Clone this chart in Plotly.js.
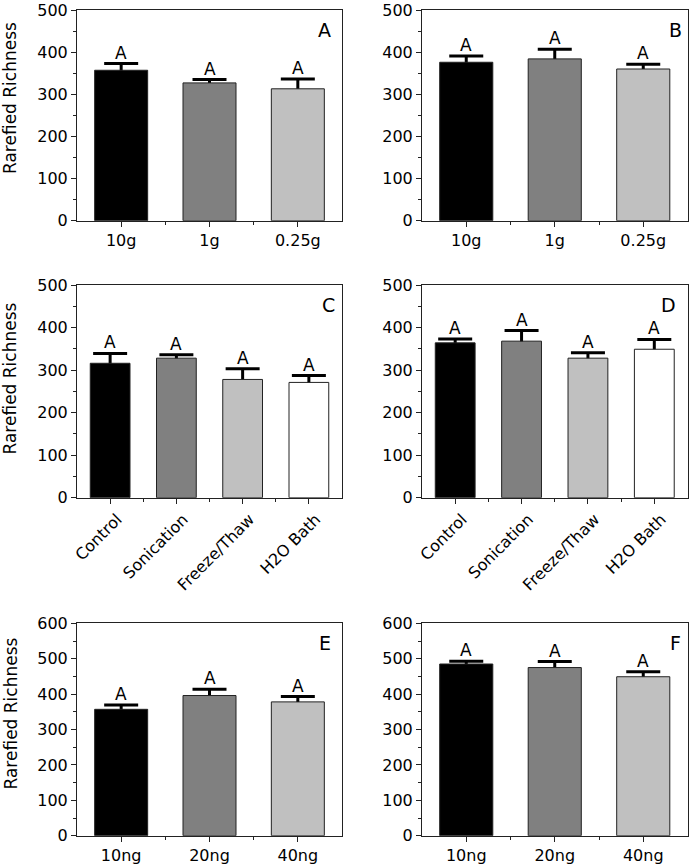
<!DOCTYPE html>
<html>
<head>
<meta charset="utf-8">
<script src="https://cdn.plot.ly/plotly-3.0.1.min.js"></script>
<style>html,body{margin:0;padding:0;background:#fff;}#chart{width:689px;height:865px;}</style>
</head>
<body>
<div id="chart"></div>
<script>
// ---- data ----
const catsMass = ['10g', '1g', '0.25g'];
const catsLysis = ['Control', 'Sonication', 'Freeze/Thaw', 'H2O Bath'];
const catsDNA = ['10ng', '20ng', '40ng'];

const valsA = [357, 327, 313];
const errA = [16, 8, 23];
const valsB = [376, 384, 360];
const errB = [15, 23, 11];
const valsC = [316, 328, 278, 271];
const errC = [23, 8, 25, 16];
const valsD = [364, 368, 328, 349];
const errD = [9, 25, 13, 23];
const valsE = [357, 396, 378];
const errE = [12, 18, 15];
const valsF = [485, 475, 449];
const errF = [8, 17, 14];

const sigA = ['A', 'A', 'A'];
const sigB = ['A', 'A', 'A'];
const sigC = ['A', 'A', 'A', 'A'];
const sigD = ['A', 'A', 'A', 'A'];
const sigE = ['A', 'A', 'A'];
const sigF = ['A', 'A', 'A'];

const panelLetters = ['A', 'B', 'C', 'D', 'E', 'F'];
const yTitle = 'Rarefied Richness';
const yMax = [500, 500, 500, 500, 600, 600];

// ---- styles ----
const fillColors = ['#000000', '#808080', '#c0c0c0', '#ffffff'];
const FONT = 'DejaVu Sans, Arial, sans-serif';
const lineCol = '#222222';

const panels = [
  {cats: catsMass, vals: valsA, err: errA, sig: sigA},
  {cats: catsMass, vals: valsB, err: errB, sig: sigB},
  {cats: catsLysis, vals: valsC, err: errC, sig: sigC},
  {cats: catsLysis, vals: valsD, err: errD, sig: sigD},
  {cats: catsDNA, vals: valsE, err: errE, sig: sigE},
  {cats: catsDNA, vals: valsF, err: errF, sig: sigF}
];

const W = 689, H = 865;
const xDomLeft = [77 / W, 342 / W];
const xDomRight = [422 / W, 687.5 / W];
const rowsPx = [[10, 220.7], [285, 497.7], [623.3, 835.7]];
const letterX = [0.935, 0.955, 0.950, 0.930, 0.935, 0.955];

const data = [];
const layout = {
  width: W, height: H,
  margin: {l: 0, r: 0, t: 0, b: 0},
  paper_bgcolor: '#ffffff', plot_bgcolor: '#ffffff',
  barmode: 'overlay',
  showlegend: false,
  font: {family: FONT, size: 16, color: '#000'},
  annotations: []
};

panels.forEach((p, i) => {
  const n = i + 1;
  const xa = 'x' + (n === 1 ? '' : n);
  const ya = 'y' + (n === 1 ? '' : n);
  const row = Math.floor(i / 2);
  const col = i % 2;
  const xs = p.cats.map((c, k) => k);
  const colors = p.cats.map((c, k) => fillColors[k]);

  // error bar carrier (hidden bar), covered by the visible bar drawn after it
  data.push({
    type: 'bar', x: xs, y: p.vals, xaxis: xa, yaxis: ya, width: 0.6,
    marker: {color: 'rgba(0,0,0,0)', line: {width: 0}},
    error_y: {type: 'data', array: p.err, visible: true, color: '#000', thickness: 3, width: 17},
    hoverinfo: 'skip'
  });
  data.push({
    type: 'bar', x: xs, y: p.vals, xaxis: xa, yaxis: ya, width: 0.6,
    marker: {color: colors, line: {color: lineCol, width: 1}},
    name: panelLetters[i]
  });

  const dom = rowsPx[row];
  const rot = p.cats.length === 4;
  layout['xaxis' + (n === 1 ? '' : n)] = {
    domain: col === 0 ? xDomLeft : xDomRight,
    anchor: ya,
    type: 'linear',
    range: [-0.5, p.cats.length - 0.5],
    tickmode: 'array', tickvals: xs, ticktext: p.cats,
    tickangle: rot ? -45 : 0,
    ticklabelshift: rot ? 7 : 0,
    ticklabeloverflow: 'allow',
    ticks: 'outside', ticklen: 5, tickwidth: 1, tickcolor: lineCol,
    minor: {tickmode: 'array', tickvals: xs.slice(1).map(k => k - 0.5), ticks: 'outside', ticklen: 3, tickwidth: 1, tickcolor: lineCol},
    showline: true, linecolor: lineCol, linewidth: 1, mirror: true,
    showgrid: false, zeroline: false, fixedrange: true,
    tickfont: {family: FONT, size: 16, color: '#000'}
  };
  layout['yaxis' + (n === 1 ? '' : n)] = {
    domain: [1 - dom[1] / H, 1 - dom[0] / H],
    anchor: xa,
    range: [0, yMax[i]],
    tickmode: 'linear', tick0: 0, dtick: 100,
    ticklabeloverflow: 'allow',
    ticks: 'outside', ticklen: 5, tickwidth: 1, tickcolor: lineCol,
    minor: {tickmode: 'linear', tick0: 0, dtick: 50, ticks: 'outside', ticklen: 3, tickwidth: 1, tickcolor: lineCol},
    showline: true, linecolor: lineCol, linewidth: 1, mirror: true,
    showgrid: false, zeroline: false, fixedrange: true,
    tickfont: {family: FONT, size: 16, color: '#000'}
  };

  // significance letters
  p.sig.forEach((s, k) => {
    layout.annotations.push({
      xref: xa, yref: ya, x: xs[k], y: p.vals[k] + p.err[k],
      text: s, showarrow: false, xanchor: 'center', yanchor: 'bottom', yshift: -1,
      font: {family: FONT, size: 17, color: '#000'}
    });
  });

  // panel letter
  layout.annotations.push({
    xref: xa + ' domain', yref: ya + ' domain', x: letterX[i], y: 1 - 20 / 212,
    text: panelLetters[i], showarrow: false, xanchor: 'center', yanchor: 'middle',
    font: {family: FONT, size: 19, color: '#000'}
  });

  // y title on left column
  if (col === 0) {
    const yc = [98, 378.5, 713.5][row];
    layout.annotations.push({
      xref: 'paper', yref: 'paper', x: 10 / W, y: 1 - yc / H,
      text: yTitle, textangle: -90, showarrow: false, xanchor: 'center', yanchor: 'middle',
      font: {family: FONT, size: 17, color: '#000'}
    });
  }
});

Plotly.newPlot('chart', data, layout, {displayModeBar: false, staticPlot: true});
</script>
</body>
</html>
